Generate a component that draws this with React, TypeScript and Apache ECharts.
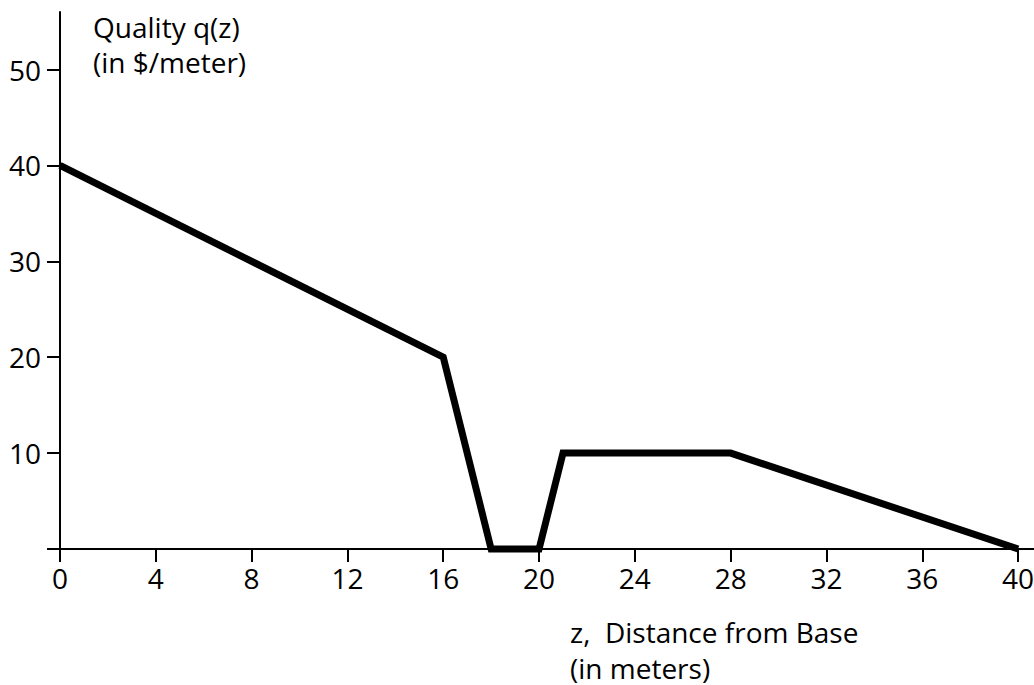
import React, { useEffect, useRef } from "react";
import * as echarts from "echarts";

const zValues = [0, 16, 18, 20, 21, 28, 40];
const qValues = [40, 20, 0, 0, 10, 10, 0];
const xTickValues = [0, 4, 8, 12, 16, 20, 24, 28, 32, 36, 40];
const yTickValues = [0, 10, 20, 30, 40, 50];
const yLabelValues = [10, 20, 30, 40, 50];
const yTitle = ["Quality q(z)", "(in $/meter)"];
const xTitle = ["z,  Distance from Base", "(in meters)"];

const FONT = "'Open Sans', sans-serif";

export default function App() {
  const ref = useRef<HTMLDivElement>(null);
  useEffect(() => {
    if (!ref.current) return;
    const chart = echarts.init(ref.current, undefined, { renderer: "svg" });
    chart.setOption({
      animation: false,
      backgroundColor: "#fff",
      grid: { left: 60, top: 12, width: 1006, height: 537, outerBoundsMode: "none", containLabel: false },
      xAxis: {
        type: "value",
        min: 0,
        max: 42,
        interval: 4,
        splitLine: { show: false },
        axisLine: { show: true, onZero: false, lineStyle: { color: "#000", width: 2 } },
        axisTick: { show: true, length: 13, customValues: xTickValues, lineStyle: { color: "#000", width: 2 } },
        axisLabel: {
          customValues: xTickValues,
          color: "#000",
          fontSize: 28,
          fontFamily: FONT,
          margin: 15,
        },
      },
      yAxis: {
        type: "value",
        min: 0,
        max: 56,
        interval: 10,
        splitLine: { show: false },
        axisLine: { show: true, onZero: false, lineStyle: { color: "#000", width: 2 } },
        axisTick: { show: true, length: 13, customValues: yTickValues, lineStyle: { color: "#000", width: 2 } },
        axisLabel: {
          customValues: yLabelValues,
          color: "#000",
          fontSize: 28,
          fontFamily: FONT,
          margin: 19,
        },
      },
      graphic: [
        {
          type: "text",
          left: 93,
          top: 9,
          style: {
            text: yTitle.join("\n"),
            font: `28px ${FONT}`,
            fill: "#000",
            lineHeight: 35,
          },
        },
        {
          type: "text",
          left: 570,
          top: 614,
          style: {
            text: xTitle.join("\n"),
            font: `28px ${FONT}`,
            fill: "#000",
            lineHeight: 36,
          },
        },
      ],
      series: [
        {
          type: "line",
          data: zValues.map((z, i) => [z, qValues[i]]),
          symbol: "none",
          clip: false,
          lineStyle: { color: "#000", width: 7, join: "miter" },
        },
      ],
    });
    return () => chart.dispose();
  }, []);
  return (
    <div
      ref={ref}
      style={{ position: "fixed", left: 0, top: 0, width: 1034, height: 685, background: "#fff" }}
    />
  );
}
